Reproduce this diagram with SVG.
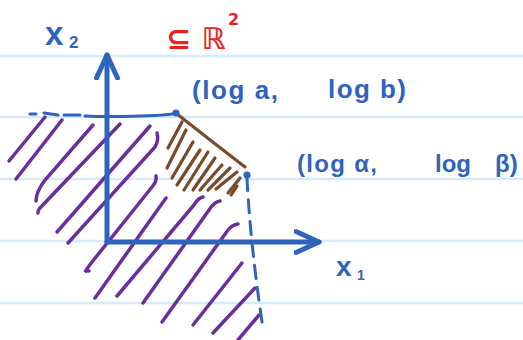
<svg xmlns="http://www.w3.org/2000/svg" width="523" height="340" viewBox="0 0 523 340">
<defs>
<style>
.rule{stroke:#d3ebfa;stroke-width:2.5;fill:none}
.axis{stroke:#2f64bd;stroke-width:5;fill:none;stroke-linecap:round}
.dash{stroke:#2f64bd;stroke-width:3;fill:none;stroke-linecap:round}
.dot{fill:#2f64bd}
.pur{stroke:#6a2e9e;stroke-width:3.5;fill:none;stroke-linecap:round}
.brn{stroke:#7b4a28;stroke-width:3.2;fill:none;stroke-linecap:round}
.blue{fill:#2f64bd;font-family:"Liberation Sans","DejaVu Sans",sans-serif;font-weight:bold}
.red{fill:#e8231f;font-family:"DejaVu Sans","Liberation Sans",sans-serif;font-weight:bold}
</style>
<marker id="arr" viewBox="0 0 30 30" refX="25" refY="15" markerWidth="30" markerHeight="30" markerUnits="userSpaceOnUse" orient="auto">
<path d="M2,4.5 L25,15 L2,25.5" fill="none" stroke="#2f64bd" stroke-width="5" stroke-linecap="round" stroke-linejoin="round"/>
</marker>
</defs>
<rect width="523" height="340" fill="#ffffff"/>
<g id="rules">
<line class="rule" x1="0" y1="56" x2="523" y2="56"/>
<line class="rule" x1="0" y1="117" x2="523" y2="117"/>
<line class="rule" x1="0" y1="179" x2="523" y2="179"/>
<line class="rule" x1="0" y1="241" x2="523" y2="241"/>
<line class="rule" x1="0" y1="303" x2="523" y2="303"/>
</g>
<g id="purple-hatch">
<path class="pur" d="M45,117 L9,161"/>
<path class="pur" d="M62,120 L16,179"/>
<path class="pur" d="M93,125 L45,180 Q36,192 36,201"/>
<path class="pur" d="M120,124 L40,208 Q37,212 38,213"/>
<path class="pur" d="M150,126 L57,232"/>
<path class="pur" d="M157,133 Q159,140 155,147 L68,243"/>
<path class="pur" d="M156,176 Q157,181 152,187 L92,262 Q86,270 85,272 Q87,270 89,271"/>
<path class="pur" d="M166,198 L95,298"/>
<path class="pur" d="M203,197 Q198,198 194,205 L117,296"/>
<path class="pur" d="M220,201 Q214,202 209,210 L143,303"/>
<path class="pur" d="M238,224 Q232,225 228,230 L162,322"/>
<path class="pur" d="M242,263 L193,325"/>
<path class="pur" d="M255,288 L213,333"/>
<path class="pur" d="M259,315 L238,340"/>
</g>
<g id="brown-hatch">
<path class="brn" d="M177,114 Q210,140 245,167"/>
<path class="brn" d="M182,122 L168,148"/>
<path class="brn" d="M186,130 L167,168"/>
<path class="brn" d="M193,142 L172,178"/>
<path class="brn" d="M200,150 L177,185"/>
<path class="brn" d="M208,152 L184,190"/>
<path class="brn" d="M215,158 L193,190"/>
<path class="brn" d="M222,165 L200,190"/>
<path class="brn" d="M230,168 L208,190"/>
<path class="brn" d="M237,172 L216,189"/>
<path class="brn" d="M240,178 L228,193"/>
<path class="brn" d="M237,186 L231,195"/>
</g>
<g id="connectors">
<line class="axis" x1="107" y1="242" x2="107" y2="55" marker-end="url(#arr)"/>
<line class="axis" x1="107" y1="242" x2="319" y2="242" marker-end="url(#arr)"/>
<path class="dash" d="M30,114 L36,114 M44,113 L58,115 M64,115 L80,115 M85,116 Q107,117 140,116 T176,113"/>
<path class="dash" d="M247,178 Q250,240 262,322" stroke-dasharray="13 9"/>
</g>
<g id="point-ab"><circle class="dot" cx="176" cy="113" r="3.6"/></g>
<g id="point-alpha-beta"><circle class="dot" cx="247" cy="175" r="3.6"/></g>
<g id="label-x2">
<text class="blue" x="45" y="45" font-size="33">x</text>
<text class="blue" x="69" y="48" font-size="17">2</text>
</g>
<g id="label-subset">
<text class="red" x="166" y="49" font-size="30">⊆ ℝ</text>
<text class="red" x="228" y="25" font-size="16">2</text>
</g>
<g id="label-ab">
<text class="blue" font-size="26" y="99"><tspan x="192" textLength="86" lengthAdjust="spacing">(log a,</tspan><tspan x="328" y="98" textLength="78" lengthAdjust="spacing">log b)</tspan></text>
</g>
<g id="label-alpha-beta">
<text class="blue" font-size="24" y="172"><tspan x="297" textLength="80" lengthAdjust="spacing">(log α,</tspan><tspan x="435">log</tspan><tspan x="495">β)</tspan></text>
</g>
<g id="label-x1">
<text class="blue" x="336" y="276" font-size="28">x</text>
<text class="blue" x="357" y="280" font-size="14">1</text>
</g>
</svg>
